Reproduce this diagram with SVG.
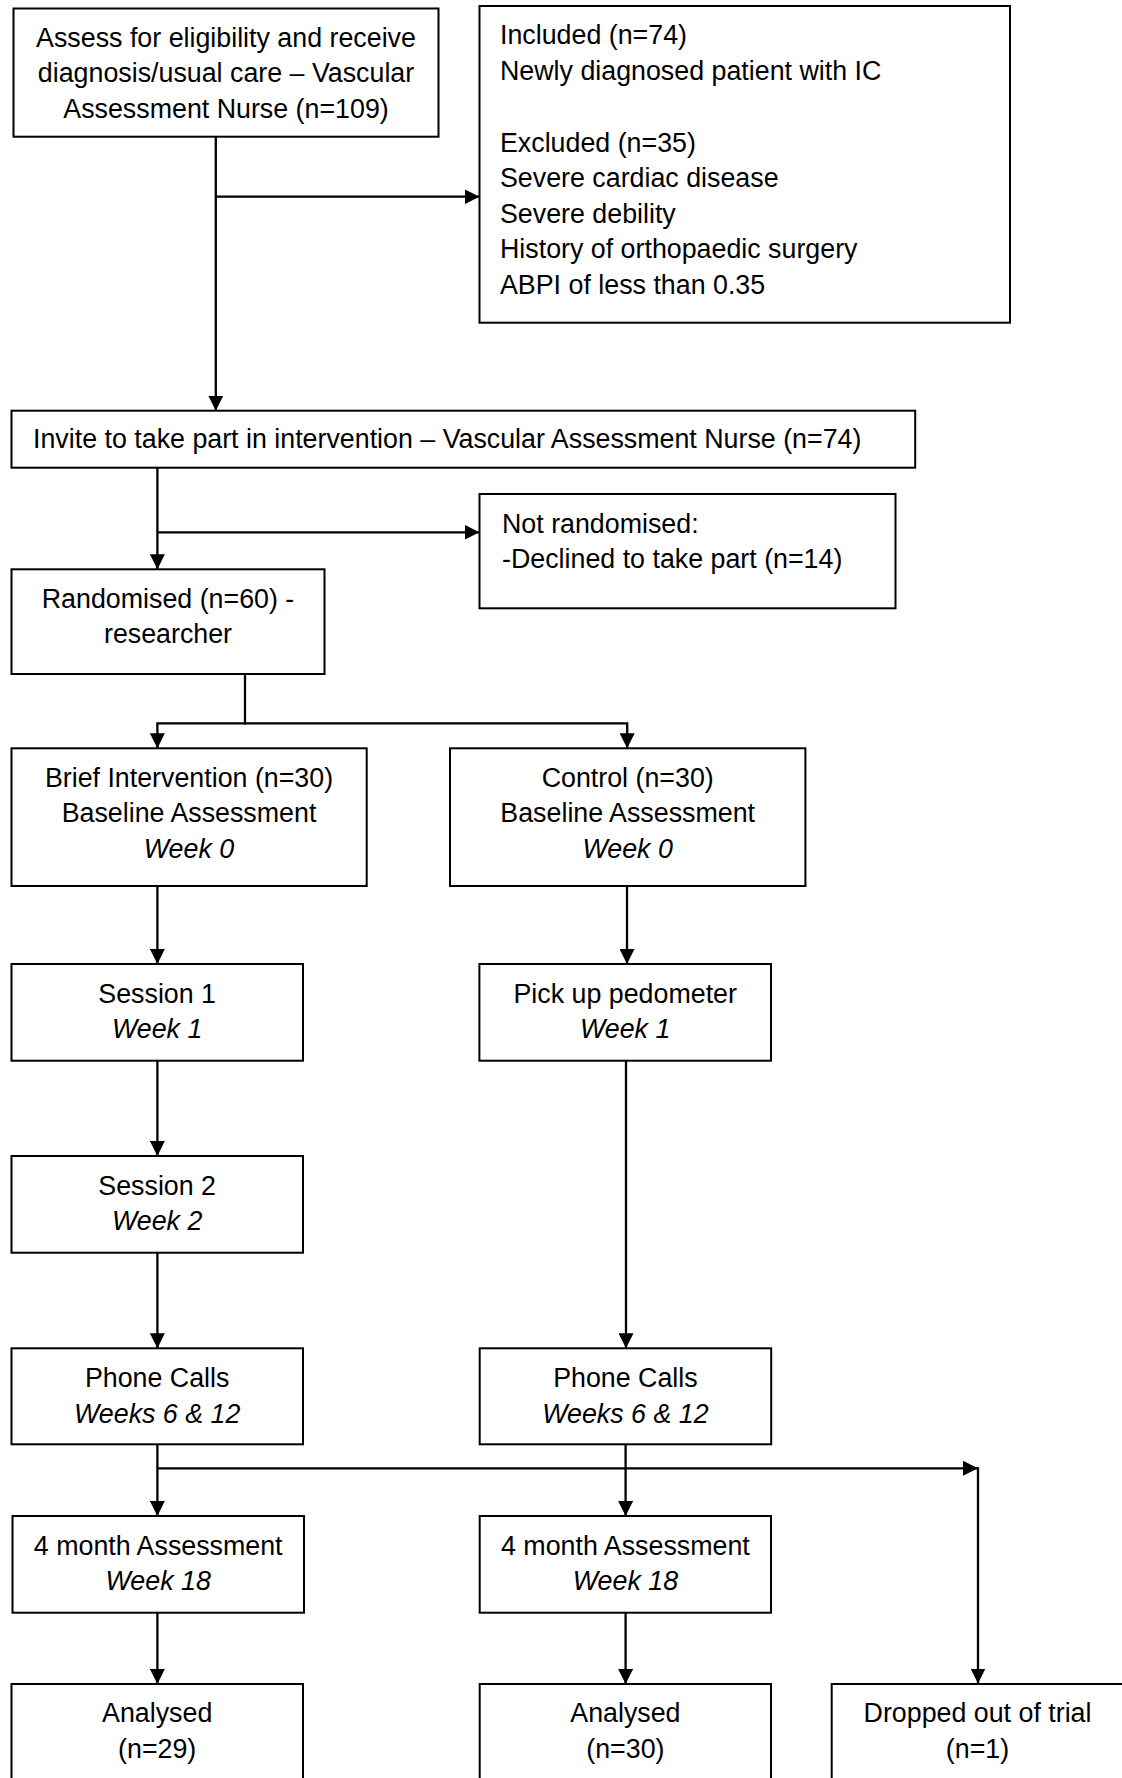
<svg xmlns="http://www.w3.org/2000/svg" width="1122" height="1778" viewBox="0 0 1122 1778">
<defs>
<marker id="arr" markerWidth="15" markerHeight="15" refX="15" refY="7.5" orient="auto" markerUnits="userSpaceOnUse">
<path d="M0,0 L15,7.5 L0,15 z" fill="#000"/>
</marker>
<style>
.box{fill:#fff;stroke:#000;stroke-width:2}
.t{font-family:"Liberation Sans",Arial,sans-serif;font-size:26.8px;fill:#000}
.c{text-anchor:middle}
.i{font-style:italic}
.ln{fill:none;stroke:#000;stroke-width:2.3}
.ar{fill:none;stroke:#000;stroke-width:2.3;marker-end:url(#arr)}
</style>
</defs>
<rect width="1122" height="1778" fill="#fff"/>

<g id="connectors">
<path class="ar" d="M215.8,136.7 V410.7"/>
<path class="ar" d="M215.8,196.7 H479.5"/>
<path class="ar" d="M157.4,467.7 V569.3"/>
<path class="ar" d="M157.4,532.3 H479.5"/>
<path class="ln" d="M245,674 V723.3"/>
<path class="ar" d="M246,723.3 H157.4 V748.3"/>
<path class="ar" d="M244,723.3 H627.2 V748.3"/>
<path class="ar" d="M157.4,886 V964"/>
<path class="ar" d="M627,886 V964"/>
<path class="ar" d="M157.4,1060.7 V1156"/>
<path class="ar" d="M626,1060.7 V1348.3"/>
<path class="ar" d="M157.4,1252.7 V1348.3"/>
<path class="ar" d="M157.4,1444.3 V1516"/>
<path class="ar" d="M625.6,1444.3 V1516"/>
<path class="ar" d="M157.4,1468.3 H978"/>
<path class="ar" d="M978,1467.2 V1683.5"/>
<path class="ar" d="M157.4,1612.7 V1684"/>
<path class="ar" d="M625.6,1612.7 V1684"/>
</g>

<g id="n-assess">
<rect class="box" x="13.5" y="8.5" width="425" height="128.2"/>
<text class="t c" x="226" y="46.7">Assess for eligibility and receive</text>
<text class="t c" x="226" y="82">diagnosis/usual care – Vascular</text>
<text class="t c" x="226" y="118.3">Assessment Nurse (n=109)</text>
</g>

<g id="n-inclusion">
<rect class="box" x="479.5" y="6" width="530.5" height="316.7"/>
<text class="t" x="500" y="44">Included (n=74)</text>
<text class="t" x="500" y="80">Newly diagnosed patient with IC</text>
<text class="t" x="500" y="151.7">Excluded (n=35)</text>
<text class="t" x="500" y="187.3">Severe cardiac disease</text>
<text class="t" x="500" y="222.7">Severe debility</text>
<text class="t" x="500" y="258.3">History of orthopaedic surgery</text>
<text class="t" x="500" y="294">ABPI of less than 0.35</text>
</g>

<g id="n-invite">
<rect class="box" x="11.5" y="410.7" width="903.7" height="57"/>
<text class="t" x="33" y="448.3">Invite to take part in intervention – Vascular Assessment Nurse (n=74)</text>
</g>

<g id="n-notrand">
<rect class="box" x="479.5" y="494" width="416" height="114.3"/>
<text class="t" x="502" y="532.7">Not randomised:</text>
<text class="t" x="502" y="568.3">-Declined to take part (n=14)</text>
</g>

<g id="n-random">
<rect class="box" x="11.5" y="569.3" width="313" height="104.7"/>
<text class="t c" x="168" y="608.3">Randomised (n=60) -</text>
<text class="t c" x="168" y="643.3">researcher</text>
</g>

<g id="n-brief">
<rect class="box" x="11.5" y="748.3" width="355.2" height="137.7"/>
<text class="t c" x="189" y="786.7">Brief Intervention (n=30)</text>
<text class="t c" x="189" y="821.7">Baseline Assessment</text>
<text class="t c i" x="189" y="858.3">Week 0</text>
</g>

<g id="n-control">
<rect class="box" x="450" y="748.3" width="355.4" height="137.7"/>
<text class="t c" x="627.7" y="786.7">Control (n=30)</text>
<text class="t c" x="627.7" y="821.7">Baseline Assessment</text>
<text class="t c i" x="627.7" y="858.3">Week 0</text>
</g>

<g id="n-session1">
<rect class="box" x="11.5" y="964" width="291.5" height="96.7"/>
<text class="t c" x="157.2" y="1003.3">Session 1</text>
<text class="t c i" x="157.2" y="1038.3">Week 1</text>
</g>

<g id="n-pedometer">
<rect class="box" x="479.4" y="964" width="291.6" height="96.7"/>
<text class="t c" x="625.2" y="1003.3">Pick up pedometer</text>
<text class="t c i" x="625.2" y="1038.3">Week 1</text>
</g>

<g id="n-session2">
<rect class="box" x="11.5" y="1156" width="291.5" height="96.7"/>
<text class="t c" x="157.2" y="1195">Session 2</text>
<text class="t c i" x="157.2" y="1230">Week 2</text>
</g>

<g id="n-phone-bi">
<rect class="box" x="11.5" y="1348.3" width="291.5" height="96"/>
<text class="t c" x="157.2" y="1386.7">Phone Calls</text>
<text class="t c i" x="157.2" y="1422.7">Weeks 6 &amp; 12</text>
</g>

<g id="n-phone-ctrl">
<rect class="box" x="479.7" y="1348.3" width="291.5" height="96"/>
<text class="t c" x="625.4" y="1386.7">Phone Calls</text>
<text class="t c i" x="625.4" y="1422.7">Weeks 6 &amp; 12</text>
</g>

<g id="n-4m-bi">
<rect class="box" x="12.5" y="1516" width="291.5" height="96.7"/>
<text class="t c" x="158.2" y="1555">4 month Assessment</text>
<text class="t c i" x="158.2" y="1590">Week 18</text>
</g>

<g id="n-4m-ctrl">
<rect class="box" x="479.7" y="1516" width="291.3" height="96.7"/>
<text class="t c" x="625.4" y="1555">4 month Assessment</text>
<text class="t c i" x="625.4" y="1590">Week 18</text>
</g>

<g id="n-analysed-bi">
<rect class="box" x="11.5" y="1684" width="291.5" height="110"/>
<text class="t c" x="157.2" y="1722">Analysed</text>
<text class="t c" x="157.2" y="1758.3">(n=29)</text>
</g>

<g id="n-analysed-ctrl">
<rect class="box" x="479.7" y="1684" width="291.3" height="110"/>
<text class="t c" x="625.4" y="1722">Analysed</text>
<text class="t c" x="625.4" y="1758.3">(n=30)</text>
</g>

<g id="n-dropped">
<rect class="box" x="831.7" y="1684" width="300" height="110"/>
<text class="t c" x="977.5" y="1722">Dropped out of trial</text>
<text class="t c" x="977.5" y="1758.3">(n=1)</text>
</g>
</svg>
